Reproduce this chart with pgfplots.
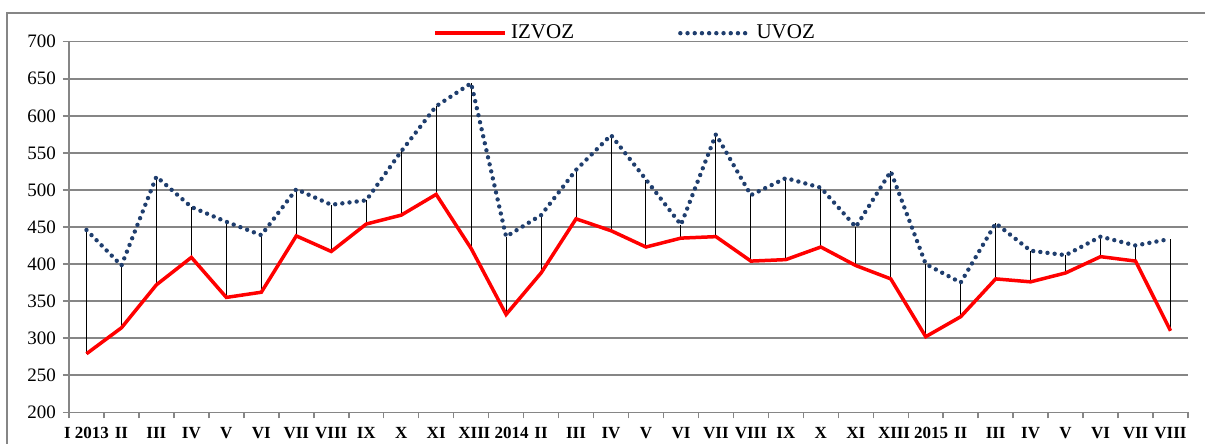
\documentclass[border=0pt]{standalone}
\usepackage{fontspec}
\setmainfont{Liberation Serif}
\usepackage{pgfplots}
\pgfplotsset{compat=1.18}
\usepackage{pgfplotstable}
\definecolor{uvozblue}{RGB}{31,62,110}
\definecolor{gridgray}{RGB}{134,134,134}

\pgfplotstableread{
x izvoz uvoz
0 279 446
1 314 398
2 372 518
3 409 477
4 355 457
5 362 439
6 438 501
7 417 480
8 454 486
9 466 552
10 494 613
11 421 644
12 332 437
13 388 466
14 461 527
15 445 574
16 423 514
17 435 453
18 437 575
19 404 493
20 406 516
21 423 503
22 398 450
23 380 525
24 302 400
25 329 375
26 380 455
27 376 418
28 388 412
29 410 437
30 404 425
31 310 434
}\data

\begin{document}
\begin{tikzpicture}
\path[use as bounding box] (0pt,0pt) rectangle (602.5pt,222pt);
\draw[gridgray, line width=0.75pt] (3.5pt,-1pt) -- (3.5pt,215.5pt) -- (603pt,215.5pt);
\begin{axis}[
  scale only axis, width=559.5pt, height=185.3pt,
  at={(34.5pt,15.85pt)}, anchor=south west,
  xmin=-0.5, xmax=31.5, ymin=200, ymax=700,
  ytick={200,250,...,700},
  xtick={-0.5,0.5,...,31.5}, xticklabels={},
  extra x ticks={0,1,...,31},
  extra x tick labels={I 2013,II,III,IV,V,VI,VII,VIII,IX,X,XI,XII,I 2014,II,III,IV,V,VI,VII,VIII,IX,X,XI,XII,I 2015,II,III,IV,V,VI,VII,VIII},
  extra x tick style={grid=none, tick style={draw=none},
     tick label style={font=\bfseries\fontsize{8.5}{9}\selectfont, yshift=-1pt}},
  axis x line*=bottom, axis y line*=left,
  tick align=outside, major tick length=3pt,
  tick style={gridgray, line width=0.75pt},
  ymajorgrids, grid style={gridgray, line width=0.75pt},
  axis line style={gridgray, line width=0.75pt},
  /pgf/number format/assume math mode=true,
  yticklabel style={font=\fontsize{9.5}{10}\selectfont},
  legend style={at={(0.498,1.023)}, anchor=center, draw=none, fill=none,
     legend columns=2, font=\fontsize{10.5}{12}\selectfont,
     /tikz/every even column/.append style={column sep=50pt}},
  legend image code/.code={\draw[#1] (0pt,0pt) -- (35pt,0pt);},
  clip=false,
]
\addplot[draw=none, mark=none, forget plot,
  error bars/.cd, y dir=plus, y explicit, error mark=none,
  error bar style={black, line width=0.5pt}]
  table[x=x, y=izvoz, y error expr=\thisrow{uvoz}-\thisrow{izvoz}] {\data};
\addplot[red, line width=1.75pt, mark=none] table[x=x, y=izvoz] {\data};
\addlegendentry{IZVOZ}
\addplot[uvozblue, line width=2.2pt, line cap=round, dash pattern=on 0pt off 3.6pt, mark=none] table[x=x, y=uvoz] {\data};
\addlegendentry{UVOZ}
\end{axis}
\end{tikzpicture}
\end{document}
